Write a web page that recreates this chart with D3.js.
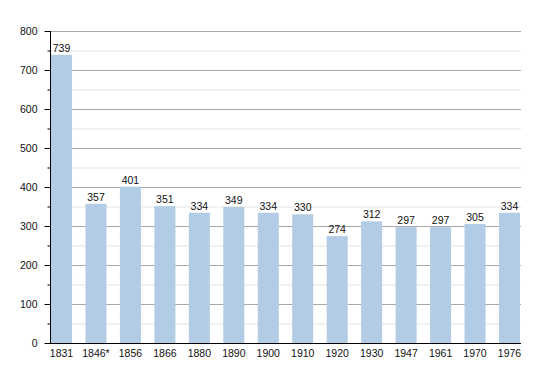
<!DOCTYPE html>
<html>
<head>
<meta charset="utf-8">
<script src="https://cdn.jsdelivr.net/npm/d3@7"></script>
<style>
  body { margin: 0; background: #fff; }
  text { font-family: "Liberation Sans", Arial, sans-serif; fill: #111; }
</style>
</head>
<body>
<script>
// population by census year
const years = ["1831", "1846*", "1856", "1866", "1880", "1890", "1900", "1910", "1920", "1930", "1947", "1961", "1970", "1976"];
const population = [739, 357, 401, 351, 334, 349, 334, 330, 274, 312, 297, 297, 305, 334];
const yTicks = [0, 100, 200, 300, 400, 500, 600, 700, 800];
const yMinor = [50, 150, 250, 350, 450, 550, 650, 750];

const width = 550, height = 373;
const plotLeft = 50, plotRight = 521, plotTop = 31, plotBottom = 343;
const fontSize = 10.5;

const svg = d3.select("body").append("svg")
    .attr("width", width)
    .attr("height", height);

const x = d3.scaleBand().domain(years).range([plotLeft + 1, plotRight - 1])
    .paddingInner(0.39).paddingOuter(0);
const y = d3.scaleLinear().domain([0, 800]).range([plotBottom, plotTop]);

// grid
svg.append("g").selectAll("line").data(yMinor).enter().append("line")
    .attr("x1", plotLeft).attr("x2", plotRight)
    .attr("y1", d => y(d) + 0.5).attr("y2", d => y(d) + 0.5)
    .attr("stroke", "#e3e3e3");
svg.append("g").selectAll("line").data(yTicks.slice(1)).enter().append("line")
    .attr("x1", plotLeft).attr("x2", plotRight)
    .attr("y1", d => y(d) + 0.5).attr("y2", d => y(d) + 0.5)
    .attr("stroke", "#a8a8a8");

// bars
svg.append("g").selectAll("rect").data(population).enter().append("rect")
    .attr("x", (d, i) => x(years[i]))
    .attr("width", x.bandwidth())
    .attr("y", d => y(d))
    .attr("height", d => plotBottom - y(d))
    .attr("fill", "#b3cce6");

// value labels
svg.append("g").selectAll("text").data(population).enter().append("text")
    .attr("x", (d, i) => x(years[i]) + x.bandwidth() / 2)
    .attr("y", d => y(d) - 3)
    .attr("text-anchor", "middle")
    .attr("font-size", fontSize)
    .text(d => d);

// y axis
const yAxis = svg.append("g").attr("transform", `translate(${plotLeft + 0.5},0)`);
yAxis.append("line").attr("y1", plotTop).attr("y2", plotBottom).attr("stroke", "#000");
yAxis.selectAll(".major").data(yTicks).enter().append("line")
    .attr("x1", -6).attr("x2", 0)
    .attr("y1", d => y(d) + 0.5).attr("y2", d => y(d) + 0.5)
    .attr("stroke", "#000");
yAxis.selectAll(".minor").data(yMinor).enter().append("line")
    .attr("x1", -3).attr("x2", 0)
    .attr("y1", d => y(d) + 0.5).attr("y2", d => y(d) + 0.5)
    .attr("stroke", "#000");
yAxis.selectAll("text").data(yTicks).enter().append("text")
    .attr("x", -13)
    .attr("y", d => y(d) + 4)
    .attr("text-anchor", "end")
    .attr("font-size", fontSize)
    .text(d => d);

// x axis
svg.append("line")
    .attr("x1", plotLeft).attr("x2", plotRight)
    .attr("y1", plotBottom + 0.5).attr("y2", plotBottom + 0.5)
    .attr("stroke", "#000").attr("stroke-width", 1.2);
svg.append("g").selectAll("text").data(years).enter().append("text")
    .attr("x", d => x(d) + x.bandwidth() / 2)
    .attr("y", plotBottom + 14)
    .attr("text-anchor", "middle")
    .attr("font-size", fontSize)
    .text(d => d);
</script>
</body>
</html>
